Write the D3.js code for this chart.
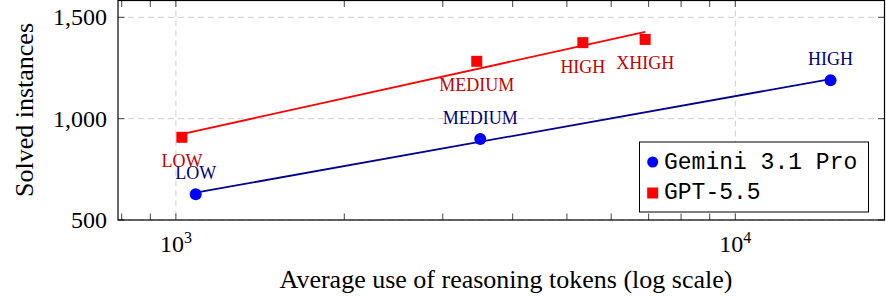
<!DOCTYPE html>
<html>
<head>
<meta charset="utf-8">
<script src="https://cdn.jsdelivr.net/npm/d3@7"></script>
<style>
  body { margin: 0; background: #fff; }
  svg { display: block; }
  text { font-family: "Liberation Serif", "Times New Roman", serif; }
  text.mono { font-family: "Liberation Mono", "DejaVu Sans Mono", monospace; }
</style>
</head>
<body>
<svg id="chart" width="886" height="298"></svg>
<script>
// values
const geminiLevels = ["LOW", "MEDIUM", "HIGH"];
const geminiTokens = [1085, 3500, 14800];
const geminiSolved = [627, 900, 1189];

const gptLevels = ["LOW", "MEDIUM", "HIGH", "XHIGH"];
const gptTokens = [1025, 3450, 5340, 6900];
const gptSolved = [908, 1283, 1375, 1391];

const yTicks = [500, 1000, 1500];
const xMajor = [1000, 10000];
const xMinor = [800, 900, 2000, 3000, 4000, 5000, 6000, 7000, 8000, 9000];

const legendNames = ["Gemini 3.1 Pro", "GPT-5.5"];

const svg = d3.select("#chart");
const pLeft = 118, pRight = 884.5, pTop = 0.5, pBottom = 220;

const x = d3.scaleLog().domain([788, 18480]).range([pLeft, pRight]);
const y = d3.scaleLinear().domain([500, 1583]).range([pBottom, pTop]);

// dashed grid, only on major ticks
const grid = svg.append("g").attr("stroke", "#cfcfcf").attr("stroke-width", 1)
    .attr("stroke-dasharray", "6,4");
grid.selectAll(".gx").data(xMajor).enter().append("line")
    .attr("x1", d => x(d)).attr("x2", d => x(d))
    .attr("y1", pTop).attr("y2", pBottom);
grid.selectAll(".gy").data(yTicks).enter().append("line")
    .attr("x1", pLeft).attr("x2", pRight)
    .attr("y1", d => y(d)).attr("y2", d => y(d));

// inward ticks on all four sides
const tl = 6.5;
const ticks = svg.append("g").attr("stroke", "#444").attr("stroke-width", 1);
xMajor.concat(xMinor).forEach(v => {
  ticks.append("line").attr("x1", x(v)).attr("x2", x(v)).attr("y1", pBottom).attr("y2", pBottom - tl);
  ticks.append("line").attr("x1", x(v)).attr("x2", x(v)).attr("y1", pTop).attr("y2", pTop + tl);
});
yTicks.forEach(v => {
  ticks.append("line").attr("x1", pLeft).attr("x2", pLeft + tl).attr("y1", y(v)).attr("y2", y(v));
  ticks.append("line").attr("x1", pRight).attr("x2", pRight - tl).attr("y1", y(v)).attr("y2", y(v));
});

// tick labels
svg.selectAll(".ylab").data(yTicks).enter().append("text")
    .attr("x", 107).attr("y", d => y(d) + 8)
    .attr("text-anchor", "end").attr("font-size", 24)
    .text(d => d3.format(",")(d));

const xl = svg.selectAll(".xlab").data(xMajor).enter().append("text")
    .attr("x", d => x(d)).attr("y", 251.5)
    .attr("text-anchor", "middle").attr("font-size", 24);
xl.append("tspan").text("10");
xl.append("tspan").attr("font-size", 16).attr("dy", -9).text(d => Math.round(Math.log10(d)));

// axis titles
svg.append("text").attr("x", 506).attr("y", 288).attr("text-anchor", "middle")
    .attr("font-size", 26).text("Average use of reasoning tokens (log scale)");
svg.append("text").attr("transform", "translate(33,110) rotate(-90)")
    .attr("text-anchor", "middle").attr("font-size", 26).text("Solved instances");

// least squares fit in log10(x)
function fit(xs, ys) {
  const lx = xs.map(Math.log10);
  const mx = d3.mean(lx), my = d3.mean(ys);
  const b = d3.sum(lx, (v, i) => (v - mx) * (ys[i] - my)) / d3.sum(lx, v => (v - mx) * (v - mx));
  const a = my - b * mx;
  const x0 = d3.min(xs), x1 = d3.max(xs);
  return [[x0, a + b * Math.log10(x0)], [x1, a + b * Math.log10(x1)]];
}

const line = d3.line().x(d => x(d[0])).y(d => y(d[1]));

const series = [
  { tokens: geminiTokens, solved: geminiSolved, levels: geminiLevels,
    lineColor: "#00008c", markColor: "#0000ff", labelColor: "#00007a", shape: "circle", dy: -15 },
  { tokens: gptTokens, solved: gptSolved, levels: gptLevels,
    lineColor: "#ff0000", markColor: "#ff0000", labelColor: "#c40000", shape: "square", dy: 30 }
];

series.forEach(s => {
  const g = svg.append("g");
  g.append("path").datum(fit(s.tokens, s.solved))
      .attr("d", line).attr("fill", "none")
      .attr("stroke", s.lineColor).attr("stroke-width", 1.8);
  const pts = s.tokens.map((t, i) => ({ t: t, v: s.solved[i], l: s.levels[i] }));
  if (s.shape === "circle") {
    g.selectAll("circle").data(pts).enter().append("circle")
        .attr("cx", d => x(d.t)).attr("cy", d => y(d.v)).attr("r", 6)
        .attr("fill", s.markColor);
  } else {
    g.selectAll("rect").data(pts).enter().append("rect")
        .attr("x", d => x(d.t) - 5.5).attr("y", d => y(d.v) - 5.5)
        .attr("width", 11).attr("height", 11).attr("fill", s.markColor);
  }
  g.selectAll("text").data(pts).enter().append("text")
      .attr("x", d => x(d.t)).attr("y", d => y(d.v) + s.dy)
      .attr("text-anchor", "middle").attr("font-size", 18)
      .attr("fill", s.labelColor).text(d => d.l);
});

// frame
svg.append("rect").attr("x", pLeft).attr("y", pTop)
    .attr("width", pRight - pLeft).attr("height", pBottom - pTop)
    .attr("fill", "none").attr("stroke", "#000").attr("stroke-width", 1.2);

// legend
const lg = svg.append("g");
lg.append("rect").attr("x", 639.5).attr("y", 142).attr("width", 229).attr("height", 70)
    .attr("fill", "#fff").attr("stroke", "#000").attr("stroke-width", 1);
lg.append("circle").attr("cx", 652.7).attr("cy", 162).attr("r", 5.5).attr("fill", "#0000ff");
lg.append("rect").attr("x", 647.2).attr("y", 187.5).attr("width", 11).attr("height", 11).attr("fill", "#ff0000");
lg.selectAll(".lt").data(legendNames).enter().append("text")
    .attr("class", "mono")
    .attr("x", 664).attr("y", (d, i) => 168.7 + i * 30.3)
    .attr("font-size", 23).text(d => d);
</script>
</body>
</html>
